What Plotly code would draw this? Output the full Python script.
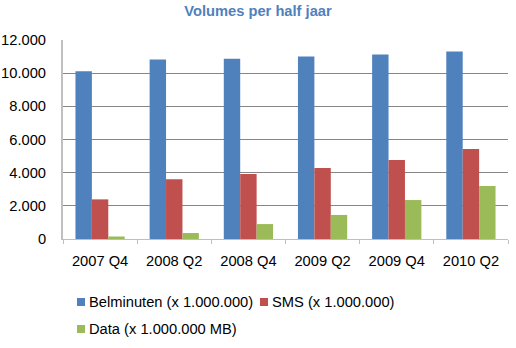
import plotly.graph_objects as go

# Half-year periods and volumes
periods = ["2007 Q4", "2008 Q2", "2008 Q4", "2009 Q2", "2009 Q4", "2010 Q2"]
belminuten = [10120, 10820, 10870, 11000, 11130, 11310]
sms = [2390, 3600, 3920, 4280, 4760, 5420]
data_mb = [150, 360, 900, 1450, 2350, 3190]

series_names = ["Belminuten (x 1.000.000)", "SMS (x 1.000.000)", "Data (x 1.000.000 MB)"]
series_values = [belminuten, sms, data_mb]
series_colors = ["#4F81BD", "#C0504D", "#9BBB59"]

FONT = "Liberation Sans, Arial, sans-serif"
W, H = 516, 348
ML, MR, MT, MB = 63, 8, 40, 109
PW, PH = W - ML - MR, H - MT - MB

fig = go.Figure()
for name, vals, col in zip(series_names, series_values, series_colors):
    fig.add_trace(go.Bar(x=periods, y=vals, name=name,
                         marker=dict(color=col, line=dict(width=0))))


def px_x(px):
    return (px - ML) / PW


def px_y(py):
    return (MT + PH - py) / PH


# Legend drawn as swatches + labels, laid out in two rows
legend_items = [
    (series_names[0], series_colors[0], 77, 302),
    (series_names[1], series_colors[1], 260, 302),
    (series_names[2], series_colors[2], 77, 329),
]
shapes = []
annotations = []
for name, col, sx, sy in legend_items:
    shapes.append(dict(type="rect", xref="paper", yref="paper",
                       x0=px_x(sx), x1=px_x(sx + 8),
                       y0=px_y(sy - 4), y1=px_y(sy + 4),
                       fillcolor=col, line=dict(width=0)))
    annotations.append(dict(text=name, xref="paper", yref="paper",
                            x=px_x(sx + 10), y=px_y(sy), xanchor="left",
                            yanchor="middle", showarrow=False,
                            font=dict(family=FONT, size=14.7, color="#000000")))

fig.update_layout(
    width=W, height=H,
    margin=dict(l=ML, r=MR, t=MT, b=MB, pad=0, autoexpand=False),
    paper_bgcolor="white", plot_bgcolor="white",
    barmode="group", bargap=0.336, bargroupgap=0,
    separators=",.",
    showlegend=False,
    title=dict(text="<b>Volumes per half jaar</b>", x=0.5, xanchor="center",
               y=1 - 11 / H, yanchor="middle",
               font=dict(family=FONT, size=14.7, color="#4F81BD")),
    font=dict(family=FONT, size=14.7, color="#000000"),
    shapes=shapes,
    annotations=annotations,
    xaxis=dict(
        type="category", showgrid=False, automargin=False,
        showline=True, linecolor="#BFBFBF", linewidth=1,
        ticks="outside", tickson="boundaries", ticklen=4, tickcolor="#BFBFBF",
        tickfont=dict(family=FONT, size=14.7, color="#000000"),
        ticklabelstandoff=8,
    ),
    yaxis=dict(
        range=[0, 12000], tickvals=[0, 2000, 4000, 6000, 8000, 10000, 12000],
        tickformat=",d", automargin=False,
        showgrid=True, gridcolor="#868686", gridwidth=1,
        showline=True, linecolor="#BFBFBF", linewidth=2,
        zeroline=False,
        ticks="", ticklabelstandoff=12,
        tickfont=dict(family=FONT, size=14.7, color="#000000"),
    ),
)

fig.write_html("out.html")
